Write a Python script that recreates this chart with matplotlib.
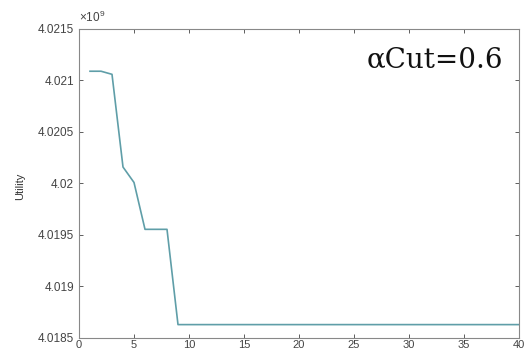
import matplotlib.pyplot as plt
from matplotlib.ticker import FuncFormatter

# iteration vs utility (alpha cut 0.6)
iters = list(range(1, 41))
utility = [4.02109, 4.02109, 4.02106, 4.02016, 4.02001,
           4.019555, 4.019555, 4.019555] + [4.01863] * 32
utility = [u * 1e9 for u in utility]

xticks = [0, 5, 10, 15, 20, 25, 30, 35, 40]
yticks = [4.0185e9, 4.019e9, 4.0195e9, 4.02e9, 4.0205e9, 4.021e9, 4.0215e9]

plt.rcParams['font.family'] = ['Liberation Sans', 'DejaVu Sans']
plt.rcParams['mathtext.fontset'] = 'custom'
plt.rcParams['mathtext.rm'] = 'Liberation Sans'
fig = plt.figure(figsize=(5.25, 3.53), dpi=100)
ax = fig.add_axes([79/525, 1 - 338/353, 440/525, 309/353])

ax.plot(iters, utility, color='#5f9ea8', linewidth=1.2)

ax.set_xlim(0, 40)
ax.set_ylim(4.0185e9, 4.0215e9)
ax.set_xticks(xticks)
ax.set_yticks(yticks)

# matlab style labels: 4.021, 4.02 ... with exponent above the axis
ax.yaxis.set_major_formatter(FuncFormatter(lambda v, p: '%g' % round(v / 1e9, 5)))
ax.text(0.0, 1.012, r'$\times\mathregular{10^9}$', transform=ax.transAxes,
        ha='left', va='bottom', fontsize=8.5, color='#444444')

ax.tick_params(direction='in', top=True, right=True, length=3,
               labelsize=8.5, colors='#444444', width=0.6)
ax.tick_params(axis='x', pad=1.5, labelsize=8)
for s in ax.spines.values():
    s.set_color('#888888')
    s.set_linewidth(0.8)

ax.set_ylabel('Utility', fontsize=8, color='#333333')
ax.yaxis.set_label_coords(-0.123, 0.49)

ax.text(0.965, 0.9, 'αCut=0.6', transform=ax.transAxes, ha='right',
        va='center', fontsize=20, family=['DejaVu Serif'],
        color='#111111')

fig.savefig('out.png', dpi=100)
